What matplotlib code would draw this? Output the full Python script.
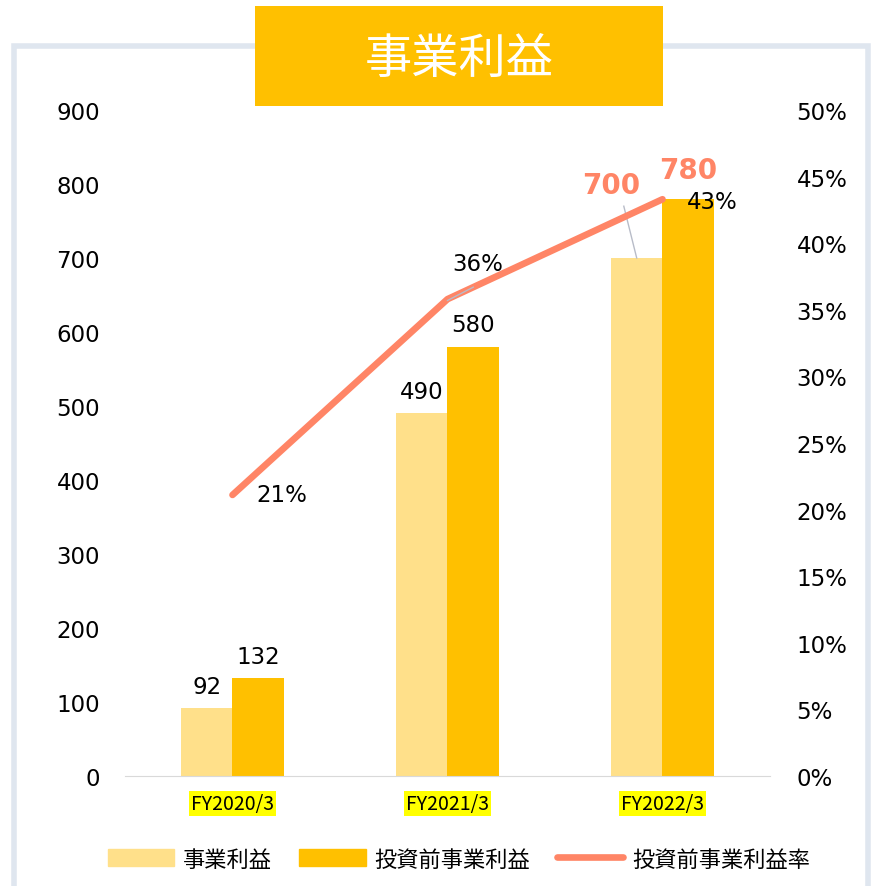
import numpy as np
import matplotlib.pyplot as plt
from matplotlib.patches import Rectangle
from matplotlib.lines import Line2D

plt.rcParams['font.family'] = ['DejaVu Sans', 'Noto Sans CJK JP']

categories = ['FY2020/3', 'FY2021/3', 'FY2022/3']
profit = [92, 490, 700]
profit_pre = [132, 580, 780]
margin = [0.211, 0.358, 0.433]
margin_labels = ['21%', '36%', '43%']

c_light = '#FFE08A'
c_gold = '#FFC000'
c_line = '#FF8566'
jp = ['Noto Sans CJK JP', 'DejaVu Sans']

fig = plt.figure(figsize=(8.75, 8.87), dpi=100)

# outer frame and title box
fig.patches.append(Rectangle((14 / 875, -0.01), 854 / 875, 1 - 47 / 887 + 0.01,
                             transform=fig.transFigure, fill=False,
                             edgecolor='#DFE6EF', linewidth=4, zorder=0))
fig.patches.append(Rectangle((255 / 875, 1 - 107 / 887), 408 / 875, 100 / 887,
                             transform=fig.transFigure, facecolor=c_gold,
                             edgecolor='none', zorder=1))
fig.text(459 / 875, 1 - 60 / 887, '事業利益', color='white', fontsize=34,
         family=jp, ha='center', va='center', zorder=2)

ax = fig.add_axes([125 / 875, 1 - 777 / 887, 645 / 875, 666 / 887])
ax2 = ax.twinx()

x = np.arange(len(categories))
w = 0.24
ax.bar(x - w / 2, profit, w, color=c_light, zorder=2)
ax.bar(x + w / 2, profit_pre, w, color=c_gold, zorder=2)

ax.set_xlim(-0.5, 2.5)
ax.set_ylim(0, 900)
ax.set_yticks(range(0, 901, 100))
ax.set_xticks(x)
ax.set_xticklabels(categories, family=jp, fontsize=14)
for t in ax.get_xticklabels():
    t.set_bbox(dict(facecolor='#FFFF00', edgecolor='none', pad=1.5))
ax.tick_params(axis='x', length=0, pad=12)
ax.tick_params(axis='y', length=0, pad=18, labelsize=16.5)
for s in ['top', 'left', 'right']:
    ax.spines[s].set_visible(False)
ax.spines['bottom'].set_color('#D9D9D9')

ax2.plot(x, margin, color=c_line, linewidth=4.8, solid_capstyle='round', zorder=3)
ax2.set_ylim(0, 0.5)
ax2.set_yticks(np.arange(0, 0.51, 0.05))
ax2.set_yticklabels([f'{v}%' for v in range(0, 51, 5)])
ax2.tick_params(axis='y', length=0, pad=19, labelsize=16.5)
for s in ax2.spines.values():
    s.set_visible(False)

# bar labels
ax.text(x[0] - w / 2, profit[0] + 14, '92', ha='center', va='bottom', fontsize=16.5)
ax.text(x[0] + w / 2, profit_pre[0] + 14, '132', ha='center', va='bottom', fontsize=16.5)
ax.text(x[1] - w / 2, profit[1] + 14, '490', ha='center', va='bottom', fontsize=16.5)
ax.text(x[1] + w / 2, profit_pre[1] + 14, '580', ha='center', va='bottom', fontsize=16.5)
ax.text(x[2] - 0.24, profit[2] + 80, '700', ha='center', va='bottom', fontsize=20,
        fontweight='bold', color=c_line)
ax.text(x[2] + 0.12, profit_pre[2] + 20, '780', ha='center', va='bottom', fontsize=20,
        fontweight='bold', color=c_line)
ax.plot([x[2] - 0.18, x[2] - 0.12], [770, 700], color='#B8BCC8', linewidth=1, zorder=4)

# margin labels
ax2.text(x[0] + 0.23, margin[0], margin_labels[0], ha='center', va='center', fontsize=16.5)
ax2.text(x[1] + 0.14, margin[1] + 0.027, margin_labels[1], ha='center', va='center', fontsize=16.5)
ax2.text(x[2] + 0.23, margin[2] - 0.002, margin_labels[2], ha='center', va='center', fontsize=16.5)
ax2.plot([x[1], x[1] + 0.12], [margin[1] - 0.001, margin[1] + 0.009],
         color='#B8BCC8', linewidth=1, zorder=4)

handles = [Rectangle((0, 0), 1, 1, color=c_light),
           Rectangle((0, 0), 1, 1, color=c_gold),
           Line2D([], [], color=c_line, linewidth=4.8, solid_capstyle='round')]
fig.legend(handles, ['事業利益', '投資前事業利益', '投資前事業利益率'],
           loc='center', bbox_to_anchor=(459 / 875, 1 - 860 / 887), ncol=3,
           frameon=False, prop={'family': jp, 'size': 16},
           handlelength=3.0, handleheight=0.8, columnspacing=1.2, handletextpad=0.4)

fig.savefig('out.png', dpi=100)
